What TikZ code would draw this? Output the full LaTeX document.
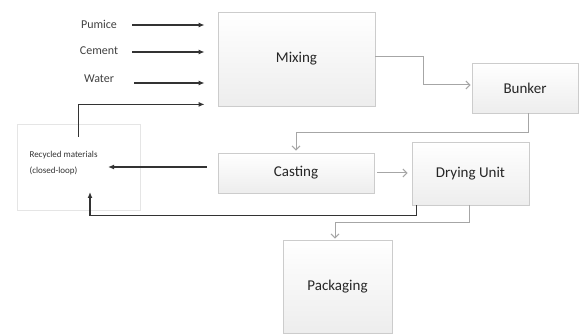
\documentclass[tikz,border=0pt]{standalone}
\usepackage{fontspec}
\setmainfont{Carlito}
\usetikzlibrary{arrows.meta}
\tikzset{
  stage/.style={draw=gray!40, line width=0.8pt, top color=white, bottom color=gray!14,
    text=black!85, font=\fontsize{15}{18}\selectfont, inner sep=0pt},
  feed/.style={font=\fontsize{12}{14}\selectfont, text=black!75},
  blackflow/.style={line width=1.3pt, black!80, -{Latex[length=6pt,width=5pt]}},
  greyflow/.style={line width=1pt, gray!70, -{Straight Barb[length=4pt,width=8pt]}},
}
\begin{document}
\begin{tikzpicture}[x=1pt,y=-1pt]
  \useasboundingbox (0,0) rectangle (579,334);
  % stages
  \node[stage, minimum width=157pt, minimum height=94pt] (mixing) at (296.5,59) {Mixing};
  \node[stage, minimum width=106pt, minimum height=50pt] (bunker) at (525,88) {Bunker};
  \node[stage, minimum width=156pt, minimum height=40pt] (casting) at (296,173) {Casting};
  \node[stage, minimum width=117pt, minimum height=63pt] (drying) at (470.5,173.5) {Drying Unit};
  \node[stage, minimum width=109pt, minimum height=93pt] (packaging) at (337.5,286.5) {Packaging};
  \node[draw=gray!20, line width=0.6pt, minimum width=123pt, minimum height=86pt] (recycled) at (78.5,167) {};
  \node[anchor=west, align=left, font=\fontsize{9}{16}\selectfont, text=black!80] (recyText) at (26,163)
    {Recycled materials\\(closed-loop)};
  % raw materials
  \node[feed] (pumice) at (99,24) {Pumice};
  \node[feed] (cement) at (99,51) {Cement};
  \node[feed] (water) at (99,79) {Water};
  \coordinate (loopIn) at (108,167);
  \coordinate (loopUp) at (90,192);
  % flows
  \draw[blackflow, shorten <=12pt, shorten >=13pt] ([yshift=-1pt]pumice.east) -- ([yshift=-1pt]pumice.east -| mixing.west);
  \draw[blackflow, shorten <=12pt, shorten >=13pt] ([yshift=-1pt]cement.east -| pumice.east) -- ([yshift=-1pt]cement.east -| mixing.west);
  \draw[blackflow, shorten <=14pt, shorten >=13pt] ([yshift=-4pt]water.east -| pumice.east) -- ([yshift=-4pt]water.east -| mixing.west);
  \draw[blackflow, shorten >=13pt] ([yshift=-13pt]recycled.north) |- ([yshift=2pt]mixing.south west);
  \draw[greyflow, shorten >=1pt] ([yshift=2pt]mixing.east) -- ++(48,0) |- ([yshift=3pt]bunker.west);
  \draw[greyflow, shorten >=2pt] ([xshift=3pt]bunker.south) -- ++(0,19) -| (casting.north);
  \draw[greyflow, shorten <=3pt, shorten >=4pt] (casting.east) -- (casting.east -| drying.west);
  \draw[blackflow, shorten <=11pt] ([yshift=6pt]casting.west) -- (loopIn);
  \draw[blackflow] ([xshift=-54pt]drying.south) -- ++(0,10) -| (loopUp);
  \draw[greyflow, shorten >=1pt] ([xshift=-1.5pt]drying.south) -- ++(0,17) -| ([xshift=-2.5pt]packaging.north);
\end{tikzpicture}
\end{document}
